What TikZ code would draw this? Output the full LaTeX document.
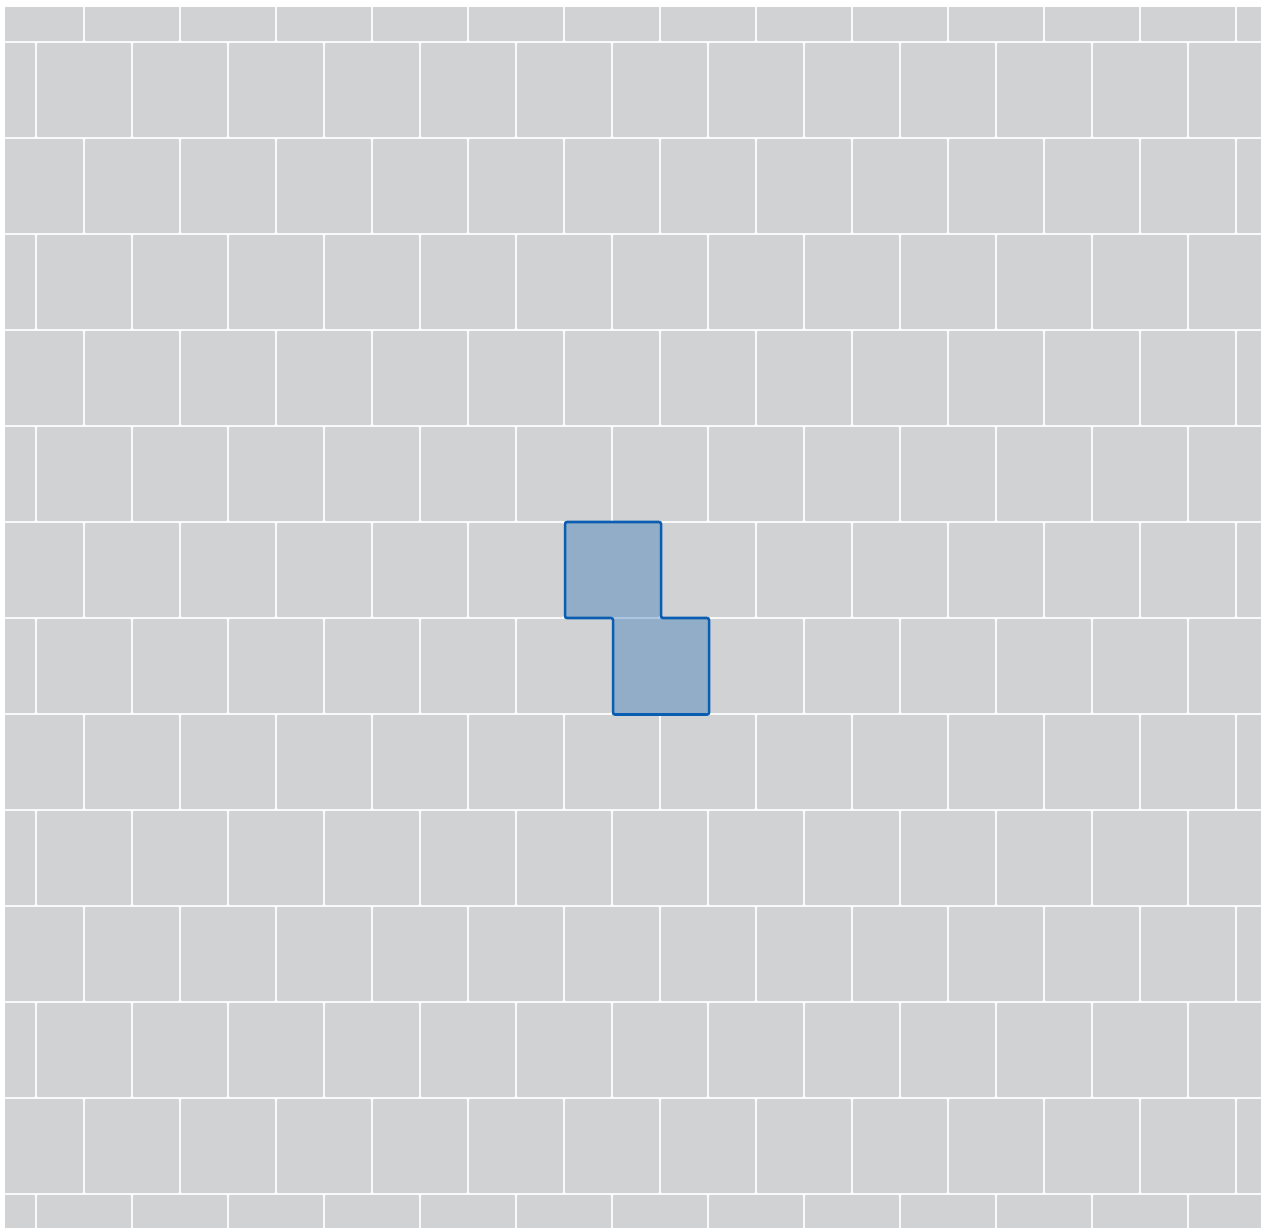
\documentclass[tikz,border=0pt]{standalone}
\definecolor{tilegray}{RGB}{209,210,212}
\definecolor{hlblue}{RGB}{16,96,176}
\definecolor{hledge}{RGB}{10,94,178}
\begin{document}
\begin{tikzpicture}[x=1pt,y=-1pt,
  tile/.style={fill=tilegray, rounded corners=1.2pt},
  hlshape/.style={draw=hledge, line width=2.6pt, fill=hlblue, fill opacity=0.32, draw opacity=1, rounded corners=2pt, line join=round}]
\useasboundingbox (0,0) rectangle (1261,1227);
\fill[white] (0,0) rectangle (1261,1227);
\begin{scope}
\clip (5,7) rectangle (1261,1227);
\foreach \r in {0,...,13} {
  \pgfmathsetmacro\yt{-54+96*\r}
  \pgfmathsetmacro\xoff{mod(\r,2)==0 ? -12 : -60}
  \foreach \k in {0,...,14} {
    \fill[tile] ({\xoff+96*\k+0.8},{\yt+0.8}) rectangle ({\xoff+96*\k+95.2},{\yt+95.2});
  }
}
\end{scope}
\path[hlshape] (565,522) -- (661,522) -- (661,618) -- (709,618) -- (709,714.5) -- (613,714.5) -- (613,618) -- (565,618) -- cycle;
\end{tikzpicture}
\end{document}
